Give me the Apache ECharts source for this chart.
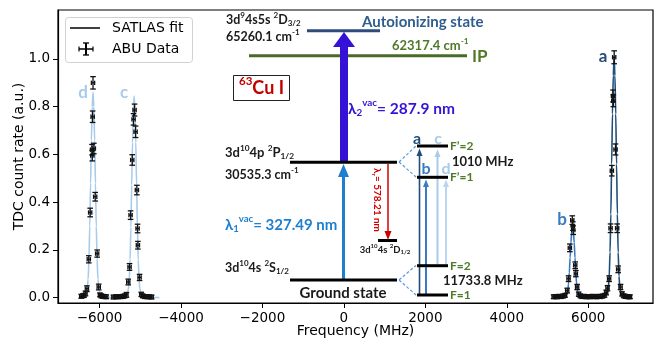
<!DOCTYPE html>
<html><head><meta charset="utf-8">
<script src="https://cdn.jsdelivr.net/npm/echarts@6/dist/echarts.min.js"></script>
<style>html,body{margin:0;padding:0;background:#fff}#c{width:656px;height:340px}</style>
</head><body><div id="c"></div>
<script>
// ---- axis ticks ----
const xTicks = [-6000, -4000, -2000, 0, 2000, 4000, 6000];
const yTicks = [0, 0.2, 0.4, 0.6, 0.8, 1.0];

// ---- SATLAS fit curves [frequency MHz, rate] ----
const fitDC = [
  [-6470,0.002],[-6380,0.005],[-6330,0.015],[-6300,0.039],[-6280,0.077],[-6260,0.163],[-6240,0.30],
  [-6220,0.48],[-6200,0.66],[-6180,0.80],[-6160,0.86],[-6140,0.80],[-6120,0.66],[-6100,0.48],
  [-6080,0.30],[-6060,0.163],[-6040,0.077],[-6020,0.039],[-5990,0.015],[-5940,0.005],[-5860,0.002],
  [-5600,0.001],[-5450,0.002],[-5370,0.005],[-5320,0.015],[-5290,0.038],[-5270,0.076],[-5250,0.16],
  [-5230,0.296],[-5210,0.473],[-5190,0.65],[-5170,0.786],[-5150,0.845],[-5130,0.786],[-5110,0.65],
  [-5090,0.473],[-5070,0.296],[-5050,0.16],[-5030,0.076],[-5010,0.038],[-4980,0.015],[-4930,0.005],
  [-4850,0.002],[-4530,0.001]
];
const fitB = [
  [5130,0.001],[5300,0.002],[5400,0.004],[5445,0.006],[5475,0.013],[5495,0.027],[5515,0.057],
  [5535,0.105],[5555,0.168],[5575,0.231],[5595,0.279],[5615,0.30],[5635,0.279],[5655,0.231],
  [5675,0.168],[5695,0.105],[5715,0.057],[5735,0.027],[5755,0.013],[5785,0.006],[5835,0.003],
  [5950,0.002],[6150,0.002]
];
const fitA = [
  [6100,0.002],[6300,0.003],[6400,0.005],[6465,0.018],[6495,0.045],[6515,0.09],[6535,0.19],
  [6555,0.35],[6575,0.56],[6595,0.77],[6615,0.93],[6635,1.01],[6655,0.93],[6675,0.77],[6695,0.56],
  [6715,0.35],[6735,0.19],[6755,0.09],[6775,0.045],[6805,0.018],[6855,0.006],[6935,0.003],[7050,0.002]
];

// ---- ABU data [frequency MHz, rate, y error, x error] ----
const abuLeft = [
  [-6450,0.006,0.008,40],[-6415,0.008,0.008,40],[-6380,0.010,0.008,40],[-6345,0.018,0.010,40],
  [-6310,0.038,0.012,40],[-6264,0.161,0.015,40],[-6230,0.357,0.018,40],[-6185,0.620,0.022,40],
  [-6178,0.595,0.022,40],[-6170,0.758,0.024,40],[-6160,0.900,0.026,40],[-6140,0.625,0.022,40],
  [-6107,0.423,0.018,40],[-6058,0.185,0.015,40],[-6020,0.045,0.012,40],[-5990,0.012,0.008,40],
  [-5960,0.008,0.008,40],[-5925,0.006,0.008,40],[-5880,0.005,0.008,40],[-5835,0.004,0.008,40],
  [-5660,0.003,0.008,40],[-5600,0.004,0.008,40],[-5545,0.004,0.008,40],[-5500,0.005,0.008,40],
  [-5460,0.005,0.008,40],[-5420,0.006,0.008,40],[-5380,0.008,0.008,40],[-5340,0.012,0.010,40],
  [-5295,0.066,0.012,40],[-5263,0.129,0.014,40],[-5238,0.346,0.018,40],[-5197,0.577,0.022,40],
  [-5165,0.747,0.024,40],[-5140,0.786,0.025,40],[-5115,0.695,0.024,40],[-5083,0.451,0.020,40],
  [-5066,0.290,0.018,40],[-5058,0.220,0.016,40],[-5017,0.085,0.013,40],[-4976,0.014,0.009,40],
  [-4940,0.008,0.008,40],[-4895,0.005,0.008,40],[-4830,0.004,0.008,40],[-4770,0.004,0.008,40],
  [-4720,0.003,0.008,40]
];
const abuRight = [
  [5150,0.004,0.008,40],[5190,0.005,0.008,40],[5235,0.004,0.008,40],[5280,0.006,0.008,40],
  [5330,0.005,0.008,40],[5380,0.007,0.008,40],[5430,0.010,0.008,40],[5483,0.030,0.010,40],
  [5516,0.080,0.012,40],[5548,0.209,0.016,40],[5608,0.325,0.018,40],[5622,0.300,0.018,40],
  [5632,0.283,0.018,40],[5680,0.136,0.014,40],[5695,0.101,0.013,40],[5727,0.045,0.011,40],
  [5765,0.015,0.009,40],[5805,0.008,0.008,40],[5850,0.005,0.008,40],[5900,0.006,0.008,40],
  [5950,0.004,0.008,40],[6000,0.005,0.008,40],[6050,0.004,0.008,40],[6100,0.006,0.008,40],
  [6150,0.005,0.008,40],[6200,0.004,0.008,40],[6250,0.006,0.008,40],[6300,0.005,0.008,40],
  [6350,0.007,0.008,40],[6400,0.010,0.008,40],[6440,0.022,0.010,40],[6473,0.040,0.011,40],
  [6513,0.080,0.012,40],[6548,0.291,0.018,40],[6580,0.532,0.022,40],[6608,0.845,0.025,40],
  [6616,0.825,0.025,40],[6637,1.007,0.027,40],[6670,0.621,0.023,40],[6710,0.291,0.018,40],
  [6735,0.119,0.014,40],[6793,0.045,0.011,40],[6830,0.016,0.009,40],[6870,0.008,0.008,40],
  [6910,0.006,0.008,40],[6950,0.005,0.008,40],[6990,0.004,0.008,40],[7025,0.004,0.008,40]
];

// ---- colours / fonts ----
const C_A = '#1f4e79', C_B = '#3a7cc2', C_C = '#a8cbec', C_D = '#b9d6f1';
const AF = 'DejaVu Sans';
const DF = 'Lato';

const chart = echarts.init(document.getElementById('c'), null, {renderer: 'canvas'});

function rt(parts){ return parts.map(p => '{' + (p[1]||'n') + '|' + p[0] + '}').join(''); }
function richStyles(size, color){
  const s = Math.round(size*0.64*10)/10;
  return {
    n:   {fontSize:size, fontWeight:'bold', fontFamily:DF, fill:color},
    sup: {fontSize:s, fontWeight:'bold', fontFamily:DF, fill:color, padding:[0,0,size*0.75,0]},
    sub: {fontSize:s, fontWeight:'bold', fontFamily:DF, fill:color, padding:[size*0.55,0,0,0]}
  };
}
function txt(x, y, parts, size, color, align, rotation){
  if (typeof parts === 'string') parts = [[parts,'n']];
  return {type:'text', x:x, y:y, rotation:rotation||0, z:110,
    style:{text:rt(parts), rich:richStyles(size,color), align:align||'left', verticalAlign:'middle',
      fill:color, font:'bold '+size+'px '+DF}};
}
function seg(x1,y1,x2,y2,color,w,dash){
  return {type:'line', z:100, shape:{x1:x1,y1:y1,x2:x2,y2:y2},
    style:{stroke:color, lineWidth:w, lineDash:dash||null}};
}
function tri(pts,color){ return {type:'polygon', z:101, shape:{points:pts}, style:{fill:color}}; }

const diagram = [
  // autoionizing state
  txt(226,20,[['3d'],['9','sup'],['4s5s '],['2','sup'],['D'],['3/2','sub']],12.5,'#1a1a1a'),
  txt(226,37,[['65260.1 cm'],['-1','sup']],12.5,'#1a1a1a'),
  seg(307,30.7,380,30.7,'#2f4b7c',3),
  txt(362,22,'Autoionizing state',15,'#2e5d8e'),
  // IP
  seg(249,55.7,467,55.7,'#4a6b28',3),
  txt(392,46,[['62317.4 cm'],['-1','sup']],13,'#4e7a27'),
  txt(472,56.5,'IP',17,'#4e7a27'),
  // Cu box
  {type:'rect', z:100, shape:{x:233.5,y:75.5,width:56,height:25}, style:{fill:'#fff',stroke:'#222',lineWidth:1}},
  txt(261.5,88.5,[['63','sup'],['Cu I']],18,'#c00000','center'),
  // lambda2 arrow
  {type:'rect', z:100, shape:{x:340,y:46,width:8,height:116}, style:{fill:'#3512d6'}},
  tri([[333,47],[355,47],[344,32]],'#3512d6'),
  txt(348,109,[['λ'],['2','sub'],['vac','sup'],['= 287.9 nm']],15.5,'#3512d6'),
  // 2P level
  txt(225,153,[['3d'],['10','sup'],['4p '],['2','sup'],['P'],['1/2','sub']],13,'#1a1a1a'),
  txt(225,175,[['30535.3 cm'],['-1','sup']],12.5,'#1a1a1a'),
  // lambda1 arrow
  seg(343.5,279,343.5,176,'#1f7fcf',3),
  tri([[338,177],[349,177],[343.5,164]],'#1f7fcf'),
  txt(225,225,[['λ'],['1','sub'],['vac','sup'],['= 327.49 nm']],15,'#1f7fcf'),
  seg(290,162.3,397,162.3,'#000',3),
  // red decay arrow
  seg(388,164,388,232,'#d00000',1.5),
  tri([[384.5,231],[391.5,231],[388,240]],'#d00000'),
  txt(377,200,[['λ'],['r','sub'],['= 578.21 nm']],10,'#d00000','center',-Math.PI/2),
  seg(378,240.5,397,240.5,'#000',3),
  txt(385,249.5,[['3d'],['10','sup'],['4s '],['2','sup'],['D'],['1/2','sub']],9.5,'#1a1a1a','center'),
  // ground
  txt(225,268,[['3d'],['10','sup'],['4s '],['2','sup'],['S'],['1/2','sub']],12.5,'#1a1a1a'),
  seg(290,280,397,280,'#000',3),
  txt(343,293,'Ground state',15,'#1a1a1a','center'),
  // dashed hyperfine connectors
  seg(399,162,416,146,'#5b9bd5',1.2,[3,2]),
  seg(399,162,416,177,'#5b9bd5',1.2,[3,2]),
  seg(399,280,416,265.5,'#5b9bd5',1.2,[3,2]),
  seg(399,280,416,295,'#5b9bd5',1.2,[3,2]),
  // transition arrows
  seg(419.5,294,419.5,155,C_A,1.6), tri([[416.5,156],[422.5,156],[419.5,148.5]],C_A),
  seg(426,294,426,186,C_B,2), tri([[423,187],[429,187],[426,179.5]],C_B),
  seg(437.5,264,437.5,156,C_C,2), tri([[434.5,157],[440.5,157],[437.5,149.5]],C_C),
  seg(446,264,446,186,C_D,2), tri([[443,187],[449,187],[446,179.5]],C_D),
  // hyperfine levels
  seg(417,146,448,146,'#000',3),
  seg(417,177.3,448,177.3,'#000',3),
  seg(417,265.7,448,265.7,'#000',3),
  seg(417,295,448,295,'#000',3),
  txt(450,146,'F’=2',12,'#4e7a27'),
  txt(450,177.5,'F’=1',12,'#4e7a27'),
  txt(450,266,'F=2',12,'#4e7a27'),
  txt(450,295.5,'F=1',12,'#4e7a27'),
  txt(452,162,'1010 MHz',13,'#1a1a1a'),
  txt(443,281,'11733.8 MHz',13,'#1a1a1a'),
  txt(417,139,'a',16,C_A,'center'),
  txt(438,139,'c',16,C_C,'center'),
  txt(426,169,'b',16,C_B,'center'),
  txt(446,169,'d',16,C_C,'center'),
  // peak labels
  txt(83,93,'d',17,C_C,'center'),
  txt(124,93,'c',17,C_C,'center'),
  txt(603,57,'a',17,'#2b4c7e','center'),
  txt(562,220,'b',17,C_B,'center'),
  // legend
  {type:'rect', z:120, shape:{x:65.5,y:17.5,width:127,height:45,r:3}, style:{fill:'rgba(255,255,255,0.85)',stroke:'#d0d0d0',lineWidth:1}},
  {type:'line', z:121, shape:{x1:70,y1:28,x2:100,y2:28}, style:{stroke:'#000',lineWidth:1.5}},
  {type:'line', z:121, shape:{x1:86,y1:43,x2:86,y2:55}, style:{stroke:'#000',lineWidth:2}},
  {type:'line', z:121, shape:{x1:83,y1:43,x2:89,y2:43}, style:{stroke:'#000',lineWidth:1.3}},
  {type:'line', z:121, shape:{x1:83,y1:55,x2:89,y2:55}, style:{stroke:'#000',lineWidth:1.3}},
  {type:'line', z:121, shape:{x1:79,y1:49,x2:93,y2:49}, style:{stroke:'#000',lineWidth:1.5}},
  {type:'line', z:121, shape:{x1:79,y1:46.5,x2:79,y2:51.5}, style:{stroke:'#000',lineWidth:1.2}},
  {type:'line', z:121, shape:{x1:93,y1:46.5,x2:93,y2:51.5}, style:{stroke:'#000',lineWidth:1.2}},
  {type:'text', z:121, x:112, y:28, style:{text:'SATLAS fit', font:'14px '+AF, fill:'#000', verticalAlign:'middle'}},
  {type:'text', z:121, x:112, y:49, style:{text:'ABU Data', font:'14px '+AF, fill:'#000', verticalAlign:'middle'}}
];

function errRender(params, api){
  const x = api.value(0), y = api.value(1), ey = api.value(2), ex = api.value(3);
  const t = api.coord([x, y+ey]), b = api.coord([x, y-ey]);
  const l = api.coord([x-ex, y]), r = api.coord([x+ex, y]);
  const st = {stroke:'#111', lineWidth:1.3};
  const cw = 2.8, ch = 2.2;
  return {type:'group', children:[
    {type:'line', shape:{x1:t[0],y1:t[1],x2:b[0],y2:b[1]}, style:st},
    {type:'line', shape:{x1:t[0]-cw,y1:t[1],x2:t[0]+cw,y2:t[1]}, style:st},
    {type:'line', shape:{x1:b[0]-cw,y1:b[1],x2:b[0]+cw,y2:b[1]}, style:st},
    {type:'line', shape:{x1:l[0],y1:l[1],x2:r[0],y2:r[1]}, style:st},
    {type:'line', shape:{x1:l[0],y1:l[1]-ch,x2:l[0],y2:l[1]+ch}, style:st},
    {type:'line', shape:{x1:r[0],y1:r[1]-ch,x2:r[0],y2:r[1]+ch}, style:st}
  ]};
}

function fitSeries(data, color){
  return {type:'line', data:data, showSymbol:false, symbol:'none', smooth:0.3, smoothMonotone:'x',
    lineStyle:{color:color, width:1.6}, z:2, silent:true};
}
function errSeries(data){
  return {type:'custom', data:data, renderItem:errRender, encode:{x:0,y:1}, z:3, clip:true, silent:true};
}

const option = {
  animation:false,
  grid:{left:58, right:3, top:10, bottom:37, show:true, borderColor:'#000', borderWidth:1.2,
    containLabel:false, outerBoundsMode:'none'},
  xAxis:{type:'value', min:-7020, max:7590,
    name:'Frequency (MHz)', nameLocation:'middle', nameGap:21, nameMoveOverlap:false,
    nameTextStyle:{fontFamily:AF, fontSize:14, color:'#000'},
    axisLine:{onZero:false, lineStyle:{color:'#000', width:1.2}},
    axisTick:{customValues:xTicks, length:5, lineStyle:{color:'#000', width:1}},
    axisLabel:{customValues:xTicks, margin:8, fontFamily:AF, fontSize:13.5, color:'#000',
      formatter:v => v < 0 ? '\u2212' + Math.abs(v) : String(v)},
    splitLine:{show:false}},
  yAxis:{type:'value', min:-0.022, max:1.205,
    name:'TDC count rate (a.u.)', nameLocation:'middle', nameGap:32, nameMoveOverlap:false,
    nameTextStyle:{fontFamily:AF, fontSize:14, color:'#000'},
    axisLine:{onZero:false, lineStyle:{color:'#000', width:1.2}},
    axisTick:{customValues:yTicks, length:5, lineStyle:{color:'#000', width:1}},
    axisLabel:{customValues:yTicks, margin:8, fontFamily:AF, fontSize:13.5, color:'#000',
      formatter:v => v.toFixed(1)},
    splitLine:{show:false}},
  series:[
    fitSeries(fitDC, C_C),
    fitSeries(fitB, C_B),
    fitSeries(fitA, C_A),
    errSeries(abuLeft),
    errSeries(abuRight)
  ],
  graphic:{elements:diagram}
};
chart.setOption(option);
</script>
</body></html>
